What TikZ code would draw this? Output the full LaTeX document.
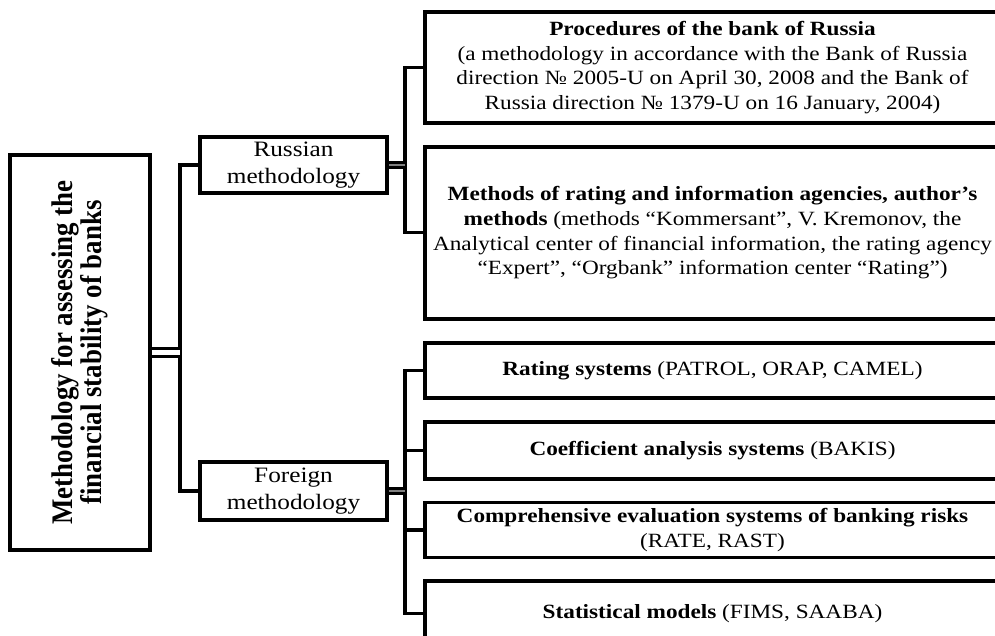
\documentclass[tikz,border=0pt]{standalone}
\usepackage{fontspec}
\setmainfont{Liberation Serif}[FakeStretch=1.15]
\newfontfamily\narrowserif{Liberation Serif}[FakeStretch=0.9]
\usepackage{tikz}
\usetikzlibrary{positioning}

\begin{document}
\begin{tikzpicture}[
    % Stili per i riquadri
    rootbox/.style = {
        draw,
        line width=2.2pt,
        align=center,
        font=\narrowserif\bfseries\fontsize{17}{15.5}\selectfont
    },
    midbox/.style = {
        draw,
        line width=2.2pt,
        inner sep=2pt,
        align=center,
        minimum width=3.74cm,
        font=\fontsize{12.5}{15.5}\selectfont
    },
    itembox/.style = {
        draw,
        line width=2.2pt,
        inner sep=2pt,
        align=center,
        minimum width=11.5cm,
        font=\fontsize{11.5}{14}\selectfont
    },
    % Stili per i collegamenti
    link/.style = {line width=1.8pt},
    bond/.style = {line width=1.6pt, double=gray, double distance=0.8pt},
    twin/.style = {line width=1.7pt, double, double distance=3.4pt}
]

% 1. Area del disegno (i riquadri a destra sono tagliati dal bordo)
\useasboundingbox (0, 0) rectangle (19.9, -12.7);
\clip (0, 0) rectangle (19.9, -12.7);

% 2. Riquadro principale (testo verticale)
\node[rootbox, rotate=90, minimum width=7.9cm, minimum height=2.8cm] (root) at (1.6, -7.05)
    {Methodology for assessing the\\financial stability of banks};

% 3. Riquadri intermedi
\node[midbox, minimum height=1.12cm] (rus) at (5.87, -3.3) {Russian\\methodology};
\node[midbox, minimum height=1.16cm] (for) at (5.87, -9.82) {Foreign\\methodology};

% 4. Riquadri a destra
\node[itembox, minimum height=2.22cm] (proc) at (14.25, -1.35)
    {\textbf{Procedures of the bank of Russia}\\
     (a methodology in accordance with the Bank of Russia\\
     direction № 2005-U on April 30, 2008 and the Bank of\\
     Russia direction № 1379-U on 16 January, 2004)};
\node[itembox, minimum height=3.44cm, below=0.4cm of proc] (meth)
    {\textbf{Methods of rating and information agencies, author's}\\
     \textbf{methods} (methods ``Kommersant'', V. Kremonov, the\\
     Analytical center of financial information, the rating agency\\
     ``Expert'', ``Orgbank'' information center ``Rating'')};
\node[itembox, minimum height=1.1cm, below=0.4cm of meth] (rat)
    {\textbf{Rating systems} (PATROL, ORAP, CAMEL)};
\node[itembox, minimum height=1.14cm, below=0.4cm of rat] (coef)
    {\textbf{Coefficient analysis systems} (BAKIS)};
\node[itembox, minimum height=1.1cm, below=0.4cm of coef] (comp)
    {\textbf{Comprehensive evaluation systems of banking risks}\\(RATE, RAST)};
\node[itembox, minimum height=1.3cm, below=0.4cm of comp] (stat)
    {\textbf{Statistical models} (FIMS, SAABA)};

% 5. Collegamenti
% Dal riquadro principale ai riquadri intermedi
\draw[link] (rus.west) -- ++(-0.36, 0) coordinate (ltop) |- (for.west);
\draw[twin] (root.south) -- (root.south -| ltop);

% Metodologia russa
\draw[link] (proc.west) -- ++(-0.36, 0) coordinate (rtop) |- (meth.west);
\draw[bond] (rus.east) -- (rus.east -| rtop);

% Metodologia estera
\draw[link] (rat.west) -- ++(-0.36, 0) coordinate (ftop) |- (stat.west);
\draw[link] (coef.west) -- (coef.west -| ftop);
\draw[link] (comp.west) -- (comp.west -| ftop);
\draw[bond] (for.east) -- (for.east -| ftop);

\end{tikzpicture}
\end{document}
